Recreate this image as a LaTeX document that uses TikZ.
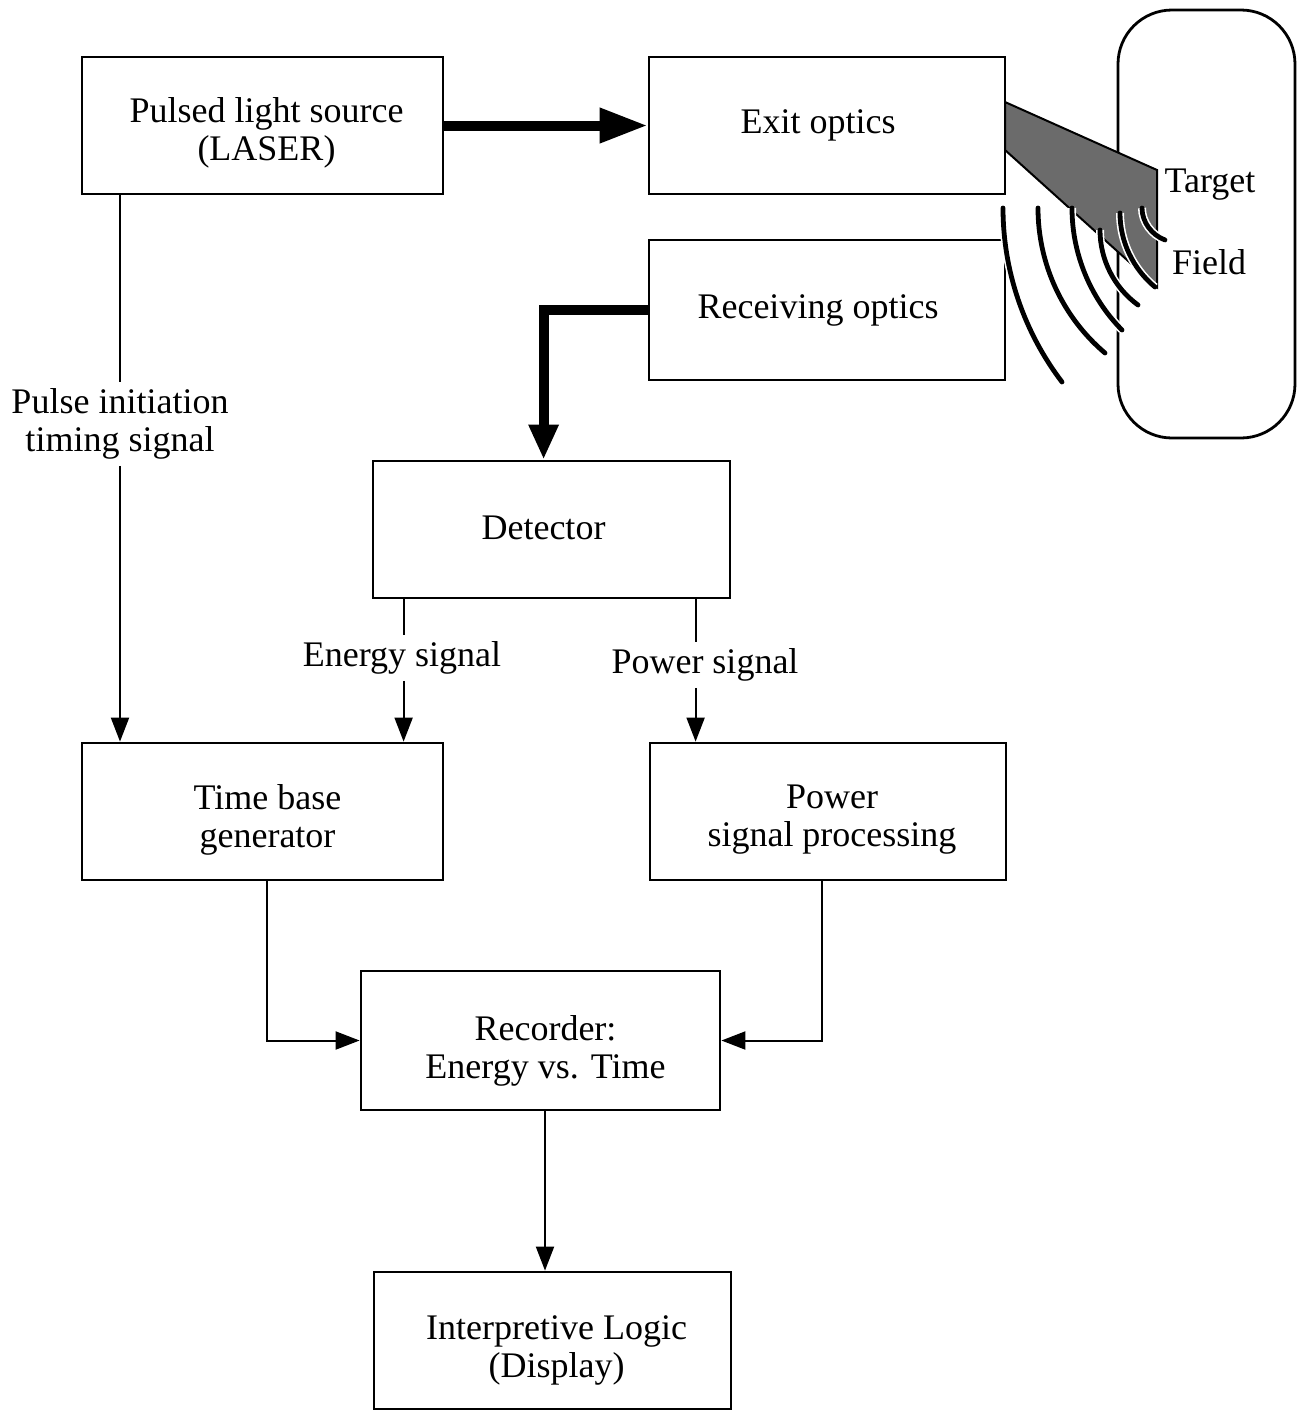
\documentclass[tikz,border=0pt]{standalone}
\usepackage{fontspec}
\setmainfont{Liberation Serif}
\usetikzlibrary{arrows.meta,calc}

\begin{document}
\begin{tikzpicture}[x=0.5pt,y=-0.5pt,
  font=\fontsize{18pt}{19pt}\selectfont,
  block/.style={draw,line width=1.4pt,minimum width=180.5pt,minimum height=68.5pt,
    inner sep=2pt},
  txt/.style={align=center,inner sep=0pt},
  thin/.style={line width=1pt,-{Triangle[length=12pt,width=9pt]}},
  plain/.style={line width=1pt},
  heavy/.style={line width=5pt},
  lbl/.style={align=center,inner sep=3pt,fill=white},
  wave/.style={line width=2.4pt,line cap=round,
    preaction={draw=white,line width=4pt}}]

\useasboundingbox (0,0) rectangle (1297,1410);

% blocks, each with its caption placed as a centre label
\node[block,label={[txt,shift={(2pt,-3.75pt)}]center:Pulsed light source\\(LASER)}]
  (src) at (262.5,125.5) {};
\node[block,minimum width=178pt,label={[txt,shift={(-4.5pt,0pt)}]center:Exit optics}]
  (exit) at (827,125.5) {};
\node[block,minimum width=178pt,minimum height=70pt,
  label={[txt,shift={(-4.5pt,0pt)}]center:Receiving optics}]
  (recv) at (827,310) {};
\node[block,minimum width=178.5pt,label={[txt,shift={(-4pt,1pt)}]center:Detector}]
  (det) at (551.5,529.5) {};
\node[block,label={[txt,shift={(2.5pt,-4pt)}]center:Time base\\generator}]
  (tbg) at (262.5,811.5) {};
\node[block,minimum width=178pt,label={[txt,shift={(2pt,-4pt)}]center:Power\\signal processing}]
  (psp) at (828,811.5) {};
\node[block,minimum width=179.5pt,minimum height=69.5pt,
  label={[txt,shift={(2.5pt,-5pt)}]center:Recorder:\\Energy vs. Time}]
  (rec) at (540.5,1040.5) {};
\node[block,minimum width=178.5pt,
  label={[txt,shift={(2pt,-5pt)}]center:Interpretive Logic\\(Display)}]
  (logic) at (552.5,1340.5) {};

% target field
\node[draw,line width=1.4pt,rounded corners=27pt,minimum width=88.5pt,minimum height=214pt]
  (tgt) at (1206.5,224) {};
\node[inner sep=0pt] (tlab) at (1210,185) {Target};
\node[inner sep=0pt] (flab) at (1209,262) {Field};

% outgoing beam
\filldraw[line width=1pt,fill=black!58,draw=black]
  (1005,102) -- (1157,170) -- (1157,287) -- (1005,150) -- cycle;

% returning wavefronts
\draw[wave] (1003,208) .. controls (1003,271) and (1024,332) .. (1062,382);
\draw[wave] (1038,208) .. controls (1038,264) and (1062.5,317) .. (1105,353);
\draw[wave] (1072,208) .. controls (1072,253.5) and (1090,297.6) .. (1122,330);
\draw[wave] (1100,230) .. controls (1100,259.5) and (1114,287.5) .. (1138,305);
\draw[wave] (1120,213) .. controls (1120,241.6) and (1133,268.8) .. (1155,287);
\draw[wave] (1142,208) .. controls (1142,222) and (1151.6,235) .. (1165,240);

% optical paths
\draw[heavy,-{Triangle[length=24pt,width=16.5pt]}] (src.east) -- (exit.west);
\coordinate (detin) at ($(det.north west)+(172,0)$);
\draw[heavy,-{Triangle[length=17.5pt,width=14pt]}] (recv.west) -| (detin);

% pulse initiation timing signal
\node[lbl] (pulse) at (120,424) {Pulse initiation\\timing signal};
\coordinate (p0) at (src.south -| pulse.north);
\coordinate (p1) at (tbg.north -| pulse.south);
\draw[plain] (p0) -- (pulse.north);
\draw[thin] (pulse.south) -- (p1);

% energy signal
\coordinate (e0) at ($(det.south west)+(32,0)$);
\coordinate (e1) at (tbg.north -| e0);
\node[lbl] (elab) at (402,658) {Energy signal};
\draw[plain] (e0) -- (e0 |- elab.north);
\draw[thin] (e1 |- elab.south) -- (e1);

% power signal
\coordinate (w0) at ($(det.south west)+(324,0)$);
\coordinate (w1) at (psp.north -| w0);
\node[lbl] (wlab) at (705,665) {Power signal};
\draw[plain] (w0) -- (w0 |- wlab.north);
\draw[thin] (w1 |- wlab.south) -- (w1);

% to recorder and display
\coordinate (t0) at ($(tbg.south)+(4.5,0)$);
\coordinate (q0) at ($(psp.south)+(-6,0)$);
\draw[thin] (t0) |- (rec.west);
\draw[thin] (q0) |- (rec.east);
\coordinate (r0) at ($(rec.south)+(4.5,0)$);
\draw[thin] (r0) -- (r0 |- logic.north);

\end{tikzpicture}
\end{document}
